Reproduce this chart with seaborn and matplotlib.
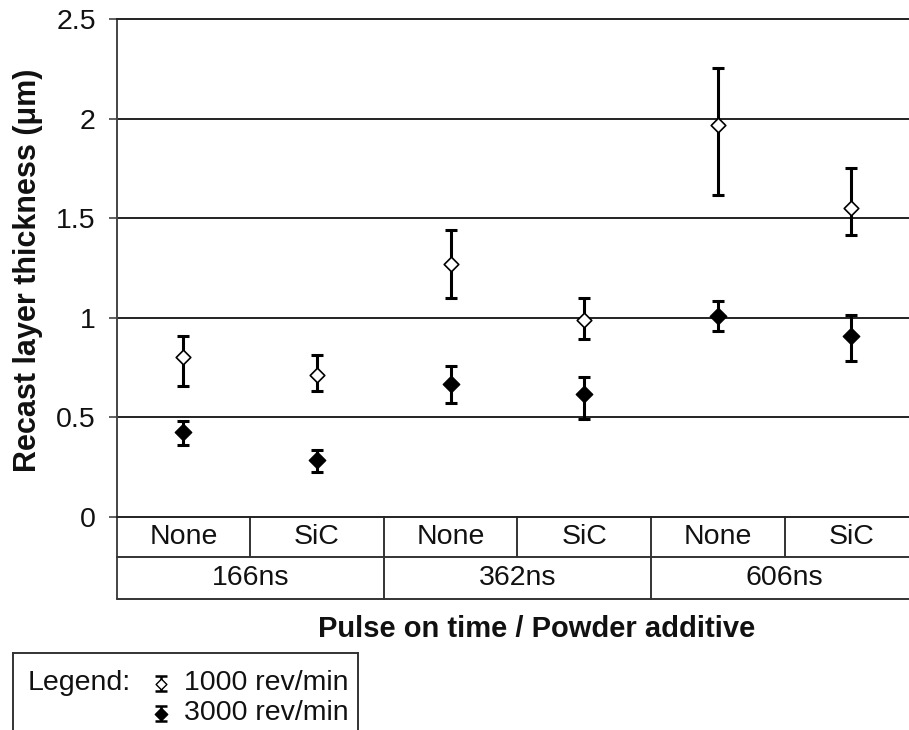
import matplotlib
matplotlib.use("Agg")
import matplotlib.pyplot as plt
import seaborn as sns
import pandas as pd
import numpy as np

# ---- data ----
additive = ["None", "SiC", "None", "SiC", "None", "SiC"]
pulse = ["166ns", "362ns", "606ns"]
mean_1000 = [0.80, 0.71, 1.27, 0.99, 1.97, 1.55]
lo_1000 = [0.655, 0.633, 1.10, 0.893, 1.618, 1.417]
hi_1000 = [0.908, 0.813, 1.442, 1.10, 2.252, 1.752]
mean_3000 = [0.425, 0.287, 0.668, 0.618, 1.007, 0.91]
lo_3000 = [0.362, 0.225, 0.573, 0.492, 0.935, 0.78]
hi_3000 = [0.483, 0.337, 0.757, 0.703, 1.083, 1.015]
yticks = [0, 0.5, 1, 1.5, 2, 2.5]
ytick_labels = ["0", "0.5", "1", "1.5", "2", "2.5"]
series_labels = ["1000 rev/min", "3000 rev/min"]

sns.set_theme(style="white")
plt.rcParams["font.family"] = ["Liberation Sans", "DejaVu Sans"]

W, H = 909, 730
fig = plt.figure(figsize=(W / 100, H / 100), dpi=100)

x_left, y_top, y_zero = 116.7, 19.0, 516.7
cat_w = 133.6
ax = fig.add_axes([x_left / W, 1 - y_zero / H, 6 * cat_w / W, (y_zero - y_top) / H])

pos = np.arange(len(additive))
df = pd.DataFrame({
    "pos": np.concatenate([pos, pos]),
    "value": mean_1000 + mean_3000,
    "speed": [series_labels[0]] * 6 + [series_labels[1]] * 6,
})

ekw = dict(fmt="none", ecolor="black", elinewidth=2.2, capsize=4.5, capthick=2.2, zorder=3)
ax.errorbar(pos, mean_1000,
            yerr=[np.array(mean_1000) - np.array(lo_1000), np.array(hi_1000) - np.array(mean_1000)], **ekw)
ax.errorbar(pos, mean_3000,
            yerr=[np.array(mean_3000) - np.array(lo_3000), np.array(hi_3000) - np.array(mean_3000)], **ekw)

sns.scatterplot(data=df[df.speed == series_labels[0]], x="pos", y="value", ax=ax,
                marker="D", s=55, color="white", edgecolor="black", linewidth=1.2,
                zorder=4, legend=False)
sns.scatterplot(data=df[df.speed == series_labels[1]], x="pos", y="value", ax=ax,
                marker="D", s=70, color="black", edgecolor="black", linewidth=1.0,
                zorder=4, legend=False)

ax.set_xlim(-0.5, 5.5)
ax.set_ylim(0, 2.5)
ax.set_yticks(yticks)
ax.set_yticklabels(ytick_labels, fontsize=20.5, color="#111111")
ax.set_xticks([])
ax.set_xlabel("")
ax.set_ylabel("")
ax.tick_params(axis="y", direction="out", length=6, width=1.2, color="#444444", pad=9, left=True)
for y in [0.5, 1.0, 1.5, 2.0]:
    ax.axhline(y, color="#222222", lw=1.4, zorder=1)
for s in ["top", "bottom"]:
    ax.spines[s].set_visible(True)
    ax.spines[s].set_color("#222222")
    ax.spines[s].set_linewidth(1.4)
ax.spines["right"].set_visible(False)
ax.spines["left"].set_color("#444444")
ax.spines["left"].set_linewidth(1.4)

# category table below the axis
ph = y_zero - y_top
r1 = -(557.3 - y_zero) / ph
r2 = -(599.3 - y_zero) / ph
tr = ax.get_xaxis_transform()
lkw = dict(color="#333333", lw=1.4, transform=tr, clip_on=False)
ax.plot([-0.5, -0.5], [0, r2], color="#444444", lw=1.4, transform=tr, clip_on=False)
ax.plot([-0.5, 5.5], [r1, r1], **lkw)
ax.plot([-0.5, 5.5], [r2, r2], **lkw)
for b in [0.5, 2.5, 4.5]:
    ax.plot([b, b], [0, r1], **lkw)
for b in [1.5, 3.5]:
    ax.plot([b, b], [0, r2], **lkw)
for i, lab in enumerate(additive):
    ax.text(i, r1 / 2, lab, transform=tr, ha="center", va="center", fontsize=20.5, color="#111111")
for g, lab in enumerate(pulse):
    ax.text(2 * g + 0.5, (r1 + r2) / 2, lab, transform=tr, ha="center", va="center",
            fontsize=20.5, color="#111111")

fig.text(28 / W, 1 - 270 / H, "Recast layer thickness (\u03bcm)", rotation=90,
         ha="center", va="center", fontsize=22, fontweight="bold", color="#111111")
fig.text(537 / W, 1 - 629 / H, "Pulse on time / Powder additive",
         ha="center", va="center", fontsize=21, fontweight="bold", color="#111111")

# legend box
lx0, lx1, ly0, ly1 = 13.0, 358.0, 652.7, 770.0
lax = fig.add_axes([lx0 / W, 1 - ly1 / H, (lx1 - lx0) / W, (ly1 - ly0) / H])
lax.set_xlim(lx0, lx1)
lax.set_ylim(ly1, ly0)
lax.set_xticks([])
lax.set_yticks([])
for s in lax.spines.values():
    s.set_color("#333333")
    s.set_linewidth(1.4)
lkw2 = dict(fmt="none", ecolor="black", elinewidth=1.8, capsize=4.0, capthick=1.8)
lax.errorbar([161], [683.5], yerr=[[7.5], [7.5]], **lkw2)
lax.errorbar([161], [713.5], yerr=[[7.5], [7.5]], **lkw2)
lax.scatter([161], [683.5], marker="D", s=30, color="white", edgecolor="black", linewidth=1.0, zorder=3)
lax.scatter([161], [713.5], marker="D", s=40, color="black", edgecolor="black", zorder=3)
lax.text(28, 683.5, "Legend:", ha="left", va="center", fontsize=20.5, color="#111111")
lax.text(184, 683.5, series_labels[0], ha="left", va="center", fontsize=20.5, color="#111111")
lax.text(184, 713.5, series_labels[1], ha="left", va="center", fontsize=20.5, color="#111111")

fig.savefig("out.png", dpi=100, facecolor="white")
